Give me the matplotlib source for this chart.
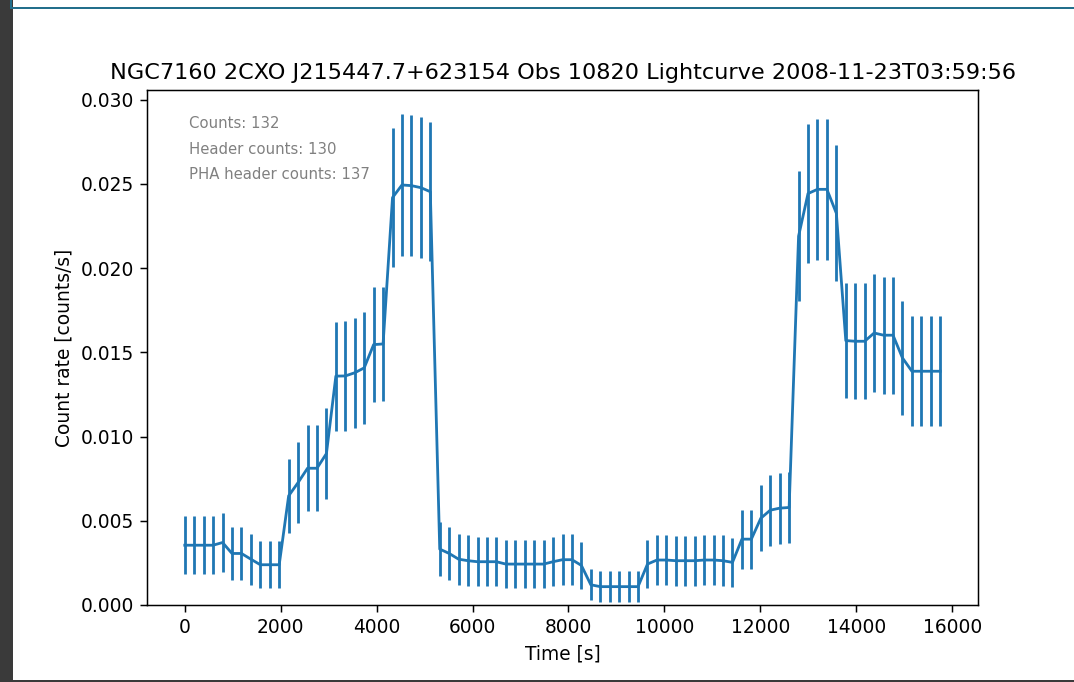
import numpy as np
import matplotlib
matplotlib.use('Agg')
import matplotlib.pyplot as plt
from matplotlib.patches import Rectangle

# light curve (81 bins)
bin_width = 196.875
n_bins    = 81
rate = [0.00355, 0.00355, 0.00355, 0.00355, 0.00371, 0.00306, 0.00306, 0.00272, 0.00239, 0.00239,
        0.00239, 0.00648, 0.00727, 0.00812, 0.00812, 0.00899, 0.01359, 0.01360, 0.01379, 0.01408,
        0.01546, 0.01550, 0.02419, 0.02494, 0.02490, 0.02478, 0.02454, 0.00332, 0.00306, 0.00272,
        0.00263, 0.00257, 0.00257, 0.00257, 0.00243, 0.00243, 0.00243, 0.00243, 0.00243, 0.00257,
        0.00269, 0.00269, 0.00235, 0.00120, 0.00109, 0.00109, 0.00109, 0.00109, 0.00109, 0.00243,
        0.00267, 0.00267, 0.00263, 0.00263, 0.00263, 0.00267, 0.00267, 0.00263, 0.00253, 0.00391,
        0.00391, 0.00515, 0.00563, 0.00575, 0.00579, 0.02190, 0.02443, 0.02468, 0.02468, 0.02326,
        0.01570, 0.01566, 0.01566, 0.01615, 0.01602, 0.01602, 0.01467, 0.01388, 0.01388, 0.01388,
        0.01388]
rate_err = [0.00173, 0.00173, 0.00173, 0.00173, 0.00178, 0.00160, 0.00160, 0.00151, 0.00141, 0.00141,
            0.00141, 0.00220, 0.00240, 0.00254, 0.00254, 0.00268, 0.00324, 0.00324, 0.00326, 0.00332,
            0.00340, 0.00340, 0.00413, 0.00419, 0.00419, 0.00419, 0.00413, 0.00161, 0.00160, 0.00152,
            0.00150, 0.00147, 0.00147, 0.00147, 0.00144, 0.00144, 0.00144, 0.00144, 0.00144, 0.00147,
            0.00150, 0.00150, 0.00140, 0.00093, 0.00093, 0.00093, 0.00093, 0.00093, 0.00093, 0.00140,
            0.00150, 0.00150, 0.00148, 0.00148, 0.00148, 0.00150, 0.00150, 0.00150, 0.00146, 0.00176,
            0.00176, 0.00197, 0.00210, 0.00210, 0.00210, 0.00387, 0.00415, 0.00418, 0.00418, 0.00405,
            0.00343, 0.00343, 0.00343, 0.00350, 0.00348, 0.00348, 0.00336, 0.00328, 0.00328, 0.00328,
            0.00328]
time = np.arange(n_bins) * bin_width

title  = 'NGC7160 2CXO J215447.7+623154 Obs 10820 Lightcurve 2008-11-23T03:59:56'
notes  = ['Counts: 132', 'Header counts: 130', 'PHA header counts: 137']

W, H, dpi = 1074, 682, 134
fig = plt.figure(figsize=(W/dpi, H/dpi), dpi=dpi, facecolor='w')
ax  = fig.add_axes([147/W, 1 - 605/H, (978-147)/W, (605-90)/H])

ax.errorbar(time, rate, yerr=rate_err, color='#1f77b4')
ax.set_ylim(bottom=0)
ax.set_xlabel('Time [s]')
ax.set_ylabel('Count rate [counts/s]')
ax.set_title(title)
for i, txt in enumerate(notes):
    ax.text(0.05, 0.95 - 0.05*i, txt, transform=ax.transAxes, va='top',
            fontsize=8, color='gray')

# screenshot frame around the figure
fig.add_artist(Rectangle((0, 0), 13/W, 1, transform=fig.transFigure, color='#3a3a3a', lw=0))
fig.add_artist(Rectangle((0, 0), 1, 2/H, transform=fig.transFigure, color='#3a3a3a', lw=0))
fig.add_artist(Rectangle((10/W, 1 - 9/H), 1, 2/H, transform=fig.transFigure, color='#236f8c', lw=0))
fig.add_artist(Rectangle((10/W, 1 - 9/H), 2/W, 9/H, transform=fig.transFigure, color='#236f8c', lw=0))

fig.savefig('out.png', dpi=dpi)
plt.close()
